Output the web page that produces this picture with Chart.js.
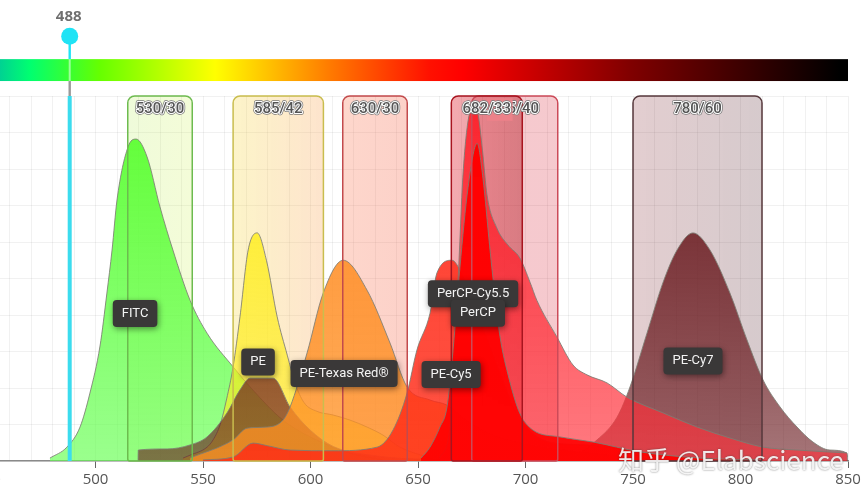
<!DOCTYPE html>
<html>
<head>
<meta charset="utf-8">
<style>
html, body { margin: 0; padding: 0; width: 865px; height: 494px; overflow: hidden; background: #fff; }
#wrap { position: absolute; left: -30px; top: 0; width: 895px; height: 494px; }
#mark { position: absolute; left: 618px; top: 440px; font: 26px "Noto Sans CJK SC", "Open Sans", sans-serif; color: rgba(255,255,255,.88); text-shadow: 0 0 2px rgba(60,60,60,.7); white-space: nowrap; }
</style>
<script src="https://cdn.jsdelivr.net/npm/chart.js@4/dist/chart.umd.min.js"></script>
</head>
<body>
<div id="wrap"><canvas id="chart" width="895" height="494"></canvas></div>
<div id="mark">知乎 @Elabscience</div>
<script>
const xTickLabels = [450, 500, 550, 600, 650, 700, 750, 800, 850];

// spectra as [wavelength, relative intensity]
const fitc = [[478.8,0.8],[486.7,3.8],[492.8,9.3],[497.4,18.6],[502.1,31.5],[505.3,46],[507.7,57.8],[510,71.5],[515.1,86],[518.9,88.2],[524,83.3],[530,69.6],[536,57.8],[544,44],[551.9,35],[564,25.8],[571.9,20.3],[587.2,11.2],[603,5.7],[618.4,2.2],[633.7,0.3]];
const pe = [[540.7,0.8],[544,1.6],[551.9,3.8],[554.7,5.8],[558,10],[561,17],[564,25.8],[567.2,39.5],[571,57.8],[575.2,62.5],[579.5,55],[584.5,39.5],[589.2,29],[592.8,21.4],[597,16],[603,13.6],[610.5,12.6],[618.4,11.2],[626.3,9.3],[633.7,7.1],[641.6,3.8],[654.2,1.1],[660,0]];
const peTexasRed = [[544,0.8],[564,5.8],[570.5,9],[579.9,9.3],[587.2,11.2],[590.5,14.8],[598.4,29.6],[605.9,46],[615.2,55],[626.3,46.8],[637,32.3],[644.9,20.3],[655.6,16.7],[663.5,15.3],[674.2,10.4],[686.7,6.6],[702.1,4.4],[724,2.5],[753.3,0.8],[781,0.3]];
const peCy5 = [[550,0.3],[564,1.1],[573.3,4.9],[579.9,4.2],[590.5,3],[610.5,2.8],[631,3.8],[638.4,8.5],[644.9,18.6],[649.5,30.4],[655.6,40.5],[658.8,51.5],[665.8,55],[669.5,52.3],[676.5,42],[683,32.3],[689,23],[695,14],[703,7.7],[713.8,4.9],[729.6,4.4],[754,2.5],[781,0.8],[810,0.3]];
const perCpCy55 = [[660,0.8],[664.7,8.5],[667,30.4],[669.3,57.8],[670.7,76.2],[673,92],[676.3,97.5],[678,94.8],[680,85],[682.1,72.9],[686.7,63.8],[691.8,59.2],[697.4,55.6],[702.1,49],[705.3,44],[714.6,34],[722.1,26.3],[728.6,23.6],[737.9,21.4],[747.2,17.5],[763.9,13.2],[779.8,9.3],[795.1,6.3],[810.5,3.8],[826.3,3],[849.5,2.2]];
const perCp = [[651.4,0.8],[655.6,3.8],[660.2,9.3],[663.5,14.8],[666.3,30.4],[669.5,53],[673.3,75],[677.5,87],[680.2,77.5],[683.3,59],[684.7,51],[687.9,35],[692.6,22],[697.4,13],[703.4,8.5],[716,6.6],[731.4,5.2],[753.3,2.5],[781,0.8],[809,0.3]];
const peCy7 = [[519.8,0],[519.9,3],[533.3,3.3],[544,4.4],[551.9,6.6],[561.2,13.2],[567.2,19.5],[571.9,22.7],[582.6,22.7],[590.5,14.8],[599.8,8.5],[610.5,4],[629.1,1.5],[655.6,0.5],[700,0.5],[722.1,1.5],[733.3,5.8],[742.6,12],[748.6,20.3],[756.5,35],[763.9,48.8],[770.5,57.8],[777.9,62.5],[785.8,57.8],[795.1,46],[803,33.2],[810.5,22.2],[818.4,14.8],[826.3,9.3],[833.7,5.2],[841.6,3],[849.5,2.2],[850,0]];

const dyeNames = ["FITC", "PE", "PE-Texas Red®", "PE-Cy5", "PerCP-Cy5.5", "PerCP", "PE-Cy7"];
const dyeSpectra = [fitc, pe, peTexasRed, peCy5, perCpCy55, perCp, peCy7];
const dyeOrder = [7, 6, 4, 3, 2, 1, 5];
const dyeTops = ["rgba(85,255,40,.95)", "rgba(255,240,30,1)", "rgba(255,140,40,.98)", "rgba(255,50,35,.95)", "rgba(255,20,30,.85)", "rgba(255,0,0,1)", "rgba(105,25,30,1)"];
const dyeBottoms = ["rgba(100,255,80,.65)", "rgba(255,235,30,.55)", "rgba(255,145,35,.75)", "rgba(255,40,20,.8)", "rgba(255,50,60,.65)", "rgba(255,0,0,.9)", "rgba(105,25,30,.6)"];
const dyeLabelX = [518.4, 575.6, 615.6, 665.4, 675.6, 677.9, 777.9];
const dyeLabelY = [40.4, 27.1, 24, 23.7, 45.8, 40.5, 27.4];

const filterNames = ["530/30", "585/42", "630/30", "695/40", "682/33", "780/60"];
const filterCenters = [530, 585, 630, 695, 682, 780];
const filterWidths = [30, 42, 30, 40, 33, 60];
const filterFillLeft = ["rgba(175,235,70,.2)", "rgba(245,215,60,.28)", "rgba(250,110,70,.28)", "rgba(215,30,50,.24)", "rgba(225,20,35,.36)", "rgba(125,30,40,.22)"];
const filterFillRight = ["rgba(200,240,60,.2)", "rgba(250,165,90,.3)", "rgba(245,90,60,.28)", "rgba(215,30,50,.24)", "rgba(175,15,25,.42)", "rgba(85,35,45,.24)"];
const filterBorders = ["#6dbb4f", "#c9bd4e", "#c24a4c", "#cc4a58", "#a8141f", "#57393d"];

const laserNm = 488;
const barStops = [450, 469.5, 502, 555.6, 610, 655.6, 671, 749, 846, 850];
const barColors = ["#00c0a0", "#00ff70", "#66ff00", "#ffff00", "#ff7800", "#ff1000", "#ff0000", "#800000", "#000000", "#000000"];

function boxPath(ctx, x0, y0, x1, y1, r) {
    ctx.beginPath();
    ctx.roundRect(x0, y0, x1 - x0, y1 - y0, [r, r, 2, 2]);
}

const filterBoxes = {
    id: "filterBoxes",
    beforeDatasetsDraw(chart) {
        const { ctx, scales: { x, y } } = chart;
        ctx.save();
        filterNames.forEach((_, i) => {
            const x0 = x.getPixelForValue(filterCenters[i] - filterWidths[i] / 2);
            const x1 = x.getPixelForValue(filterCenters[i] + filterWidths[i] / 2);
            const g = ctx.createLinearGradient(x0, 0, x1, 0);
            g.addColorStop(0, filterFillLeft[i]);
            g.addColorStop(1, filterFillRight[i]);
            ctx.fillStyle = g;
            boxPath(ctx, x0, y.getPixelForValue(100), x1, y.getPixelForValue(0), 7);
            ctx.fill();
        });
        ctx.restore();
    },
    afterDatasetsDraw(chart) {
        const { ctx, scales: { x, y } } = chart;
        ctx.save();
        filterNames.forEach((name, i) => {
            const x0 = x.getPixelForValue(filterCenters[i] - filterWidths[i] / 2);
            const x1 = x.getPixelForValue(filterCenters[i] + filterWidths[i] / 2);
            ctx.strokeStyle = filterBorders[i];
            ctx.lineWidth = 1.5;
            boxPath(ctx, x0, y.getPixelForValue(100), x1, y.getPixelForValue(0), 7);
            ctx.stroke();
        });
        // header text sits above all the boxes
        ctx.font = "500 15px Roboto";
        ctx.textAlign = "center";
        ctx.textBaseline = "middle";
        ctx.lineJoin = "round";
        filterNames.forEach((name, i) => {
            const cx = x.getPixelForValue(filterCenters[i]);
            const cy = y.getPixelForValue(96.4);
            ctx.strokeStyle = "#777";
            ctx.lineWidth = 3.4;
            ctx.strokeText(name, cx, cy);
            ctx.strokeStyle = "#fff";
            ctx.lineWidth = 2;
            ctx.strokeText(name, cx, cy);
            ctx.fillStyle = "#555";
            ctx.fillText(name, cx, cy);
            // the 682/33 box hides the middle of the 695/40 text
            if (name === "695/40") {
                const bx = x.getPixelForValue(682);
                const bx1 = x.getPixelForValue(694);
                ctx.fillStyle = "rgba(238,130,138,.92)";
                ctx.fillRect(bx, y.getPixelForValue(99.4), bx1 - bx, y.getPixelForValue(93.2) - y.getPixelForValue(99.4));
            }
        });

        // dye name tags
        ctx.font = "13px Roboto";
        dyeNames.forEach((name, i) => {
            const cx = x.getPixelForValue(dyeLabelX[i]);
            const cy = y.getPixelForValue(dyeLabelY[i]);
            const w = ctx.measureText(name).width + 18;
            ctx.save();
            ctx.shadowColor = "rgba(0,0,0,.45)";
            ctx.shadowBlur = 6;
            ctx.shadowOffsetX = 1;
            ctx.shadowOffsetY = 2;
            ctx.fillStyle = "#3a3838";
            ctx.beginPath();
            ctx.roundRect(cx - w / 2, cy - 13.5, w, 27, 4);
            ctx.fill();
            ctx.restore();
            ctx.fillStyle = "#f4f4f4";
            ctx.fillText(name, cx, cy);
        });
        ctx.restore();
    },
};

const topStrip = {
    id: "topStrip",
    afterDraw(chart) {
        const { ctx, scales: { x, y } } = chart;
        const lx = x.getPixelForValue(laserNm);
        ctx.save();
        const g = ctx.createLinearGradient(x.getPixelForValue(450), 0, x.getPixelForValue(850), 0);
        barStops.forEach((nm, i) => g.addColorStop((nm - 450) / 400, barColors[i]));
        ctx.fillStyle = g;
        ctx.fillRect(x.getPixelForValue(450), y.getPixelForValue(110.1), x.getPixelForValue(850) - x.getPixelForValue(450), y.getPixelForValue(104.1) - y.getPixelForValue(110.1));

        // laser line: cyan in the plot, grey in the gap, pale across the bar
        ctx.fillStyle = "#3bdcee";
        ctx.fillRect(lx - 2, y.getPixelForValue(100), 4, y.getPixelForValue(0) - y.getPixelForValue(100));
        ctx.fillStyle = "#999";
        ctx.fillRect(lx - 1.2, y.getPixelForValue(104.1), 2.4, y.getPixelForValue(100) - y.getPixelForValue(104.1));
        ctx.fillStyle = "rgba(225,255,225,.6)";
        ctx.fillRect(lx - 1, y.getPixelForValue(110.1), 2, y.getPixelForValue(104.1) - y.getPixelForValue(110.1));
        ctx.fillStyle = "#1fe3f5";
        ctx.fillRect(lx - 1.2, y.getPixelForValue(116.4), 2.4, y.getPixelForValue(110.1) - y.getPixelForValue(116.4));
        ctx.beginPath();
        ctx.arc(lx, y.getPixelForValue(116.4), 8.5, 0, Math.PI * 2);
        ctx.fill();

        ctx.fillStyle = "#6f6f6f";
        ctx.font = "bold 15px 'Open Sans'";
        ctx.textAlign = "center";
        ctx.textBaseline = "middle";
        ctx.fillText(String(laserNm), lx - 1, y.getPixelForValue(121.6));
        ctx.restore();
    },
};

function fillFor(i) {
    return (context) => {
        const area = context.chart.chartArea;
        if (!area) return dyeTops[i];
        const g = context.chart.ctx.createLinearGradient(0, area.top, 0, area.bottom);
        g.addColorStop(0, dyeTops[i]);
        g.addColorStop(1, dyeBottoms[i]);
        return g;
    };
}

new Chart(document.getElementById("chart"), {
    type: "line",
    data: {
        datasets: dyeNames.map((name, i) => ({
            label: name,
            data: dyeSpectra[i].map(([x, y]) => ({ x, y })),
            backgroundColor: fillFor(i),
            borderColor: "rgba(125,125,115,.85)",
            borderWidth: 1,
            fill: "origin",
            pointRadius: 0,
            cubicInterpolationMode: "monotone",
            order: dyeOrder[i],
        })),
    },
    options: {
        responsive: false,
        animation: false,
        layout: { padding: { top: 96, left: 18, right: 17, bottom: 0 } },
        plugins: { legend: { display: false }, tooltip: { enabled: false } },
        scales: {
            x: {
                type: "linear",
                min: 450,
                max: 850,
                afterFit: (scale) => { scale.height = 33; },
                border: { color: "#8a8a8a", width: 1.5 },
                grid: {
                    color: "rgba(0,0,0,.055)",
                    tickColor: (c) => (xTickLabels.includes(c.tick.value) ? "#666" : "transparent"),
                    tickLength: 7,
                },
                ticks: {
                    stepSize: 10,
                    autoSkip: false,
                    maxRotation: 0,
                    padding: 3,
                    color: "#555",
                    font: { family: "'Open Sans'", size: 15 },
                    callback: (v) => (xTickLabels.includes(v) ? String(v) : ""),
                },
            },
            y: {
                min: 0,
                max: 100,
                afterFit: (scale) => { scale.width = 0; },
                border: { display: false },
                grid: { color: "rgba(0,0,0,.055)", drawTicks: false },
                ticks: { display: false, stepSize: 10 },
            },
        },
    },
    plugins: [filterBoxes, topStrip],
});
</script>
</body>
</html>
